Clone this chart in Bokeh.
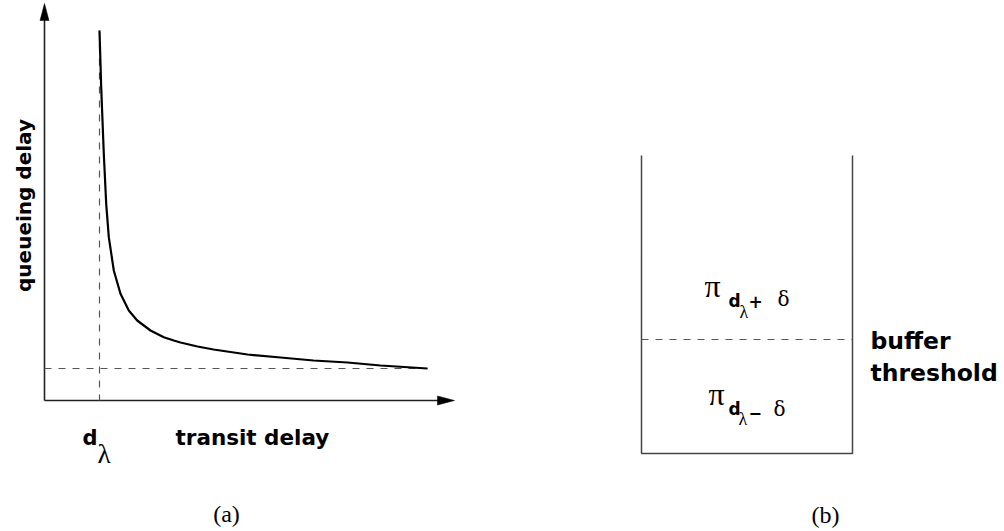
import math
from bokeh.plotting import figure
from bokeh.models import Range1d
from bokeh.core.properties import value
from bokeh.embed import file_html
from bokeh.resources import INLINE

# ---- data (diagram units = picture pixels, y downward) ----
curve_x = [99, 100.7, 103.3, 105.7, 108.3, 113.3, 120, 128.3, 136.7, 150, 163.3, 173.3,
           180, 197, 213, 247, 280, 313, 347, 380, 427]
curve_y = [30, 86.7, 153.3, 203.3, 236.7, 270, 293.3, 310, 320, 330, 336.7, 340,
           342, 346, 349, 354, 357, 360, 362, 365, 368]
d_lambda = 99          # transit delay where queueing delay blows up
q_floor = 368          # asymptotic queueing delay level
axis_origin = (44, 400)
axis_x_end = 454
axis_y_end = 3
buffer_left, buffer_right = 641, 852
buffer_top, buffer_bottom = 155, 453
buffer_threshold = 339

labels_axes = ["queueing delay", "transit delay"]
label_panels = ["(a)", "(b)"]
label_threshold = ["buffer", "threshold"]

SANS = value("DejaVu Sans")
SERIF = value("Liberation Serif")
DSERIF = value("DejaVu Serif")

W, H = 1004, 531
p = figure(width=W, height=H, x_range=Range1d(0, W), y_range=Range1d(H, 0),
           min_border=0, output_backend="svg", toolbar_location=None,
           outline_line_color=None, background_fill_color="white")
p.xaxis.visible = False
p.yaxis.visible = False
p.xgrid.visible = False
p.ygrid.visible = False

ox, oy = axis_origin
AX = "#222222"
# axes
p.line([ox, axis_x_end - 16], [oy, oy], line_color=AX, line_width=1.6)
p.line([ox, ox], [oy, axis_y_end + 16], line_color=AX, line_width=1.6)
p.patch([axis_x_end, axis_x_end - 17, axis_x_end - 17], [oy, oy - 4.5, oy + 4.5],
        fill_color="black", line_color="black", line_width=0.5)
p.patch([ox, ox - 4.5, ox + 4.5], [axis_y_end, axis_y_end + 17, axis_y_end + 17],
        fill_color="black", line_color="black", line_width=0.5)

# dashed guides
DC = "#555555"
p.line([d_lambda, d_lambda], [30, oy], line_color=DC, line_width=1.2, line_dash="7 7")
p.line([ox, curve_x[-1]], [q_floor, q_floor], line_color=DC, line_width=1.2, line_dash="7 7")

# curve
p.line(curve_x, curve_y, line_color="black", line_width=2.2, line_join="round")

# buffer
BC = "#444444"
p.line([buffer_left, buffer_left, buffer_right, buffer_right],
       [buffer_top, buffer_bottom, buffer_bottom, buffer_top], line_color=BC, line_width=1.5)
p.line([buffer_left, buffer_right], [buffer_threshold, buffer_threshold],
       line_color=DC, line_width=1.2, line_dash="7 7")

def txt(x, y, s, size, font=SANS, style="bold", align="left", baseline="alphabetic", angle=0):
    p.text(x=[x], y=[y], text=[s], text_font=font, text_font_size=f"{size}px",
           text_font_style=style, text_align=align, text_baseline=baseline,
           text_color="black", angle=angle)

txt(23, 205, labels_axes[0], 20, align="center", baseline="middle", angle=math.pi / 2)
txt(175, 437, labels_axes[1], 21.5)
txt(82, 437, "d", 21)
txt(97, 453, "λ", 27, font=SERIF, style="normal")
txt(226, 513, label_panels[0], 24, font=SERIF, style="normal", align="center")
txt(825, 514, label_panels[1], 24, font=SERIF, style="normal", align="center")
txt(870, 340, label_threshold[0], 23.5)
txt(870, 372, label_threshold[1], 23.5)

# pi labels
txt(704, 285, "π", 32, font=SERIF, style="normal")
txt(728, 300, "d", 17)
txt(739, 311, "λ", 18, font=SERIF, style="normal")
txt(748, 301, "+", 17)
txt(777, 298, "δ", 20, font=DSERIF, style="normal")

txt(708, 393, "π", 32, font=SERIF, style="normal")
txt(728, 408, "d", 17)
txt(738, 418, "λ", 18, font=SERIF, style="normal")
txt(748, 412, "−", 16)
txt(773, 408, "δ", 20, font=DSERIF, style="normal")

open("out.html", "w").write(file_html(p, INLINE))
